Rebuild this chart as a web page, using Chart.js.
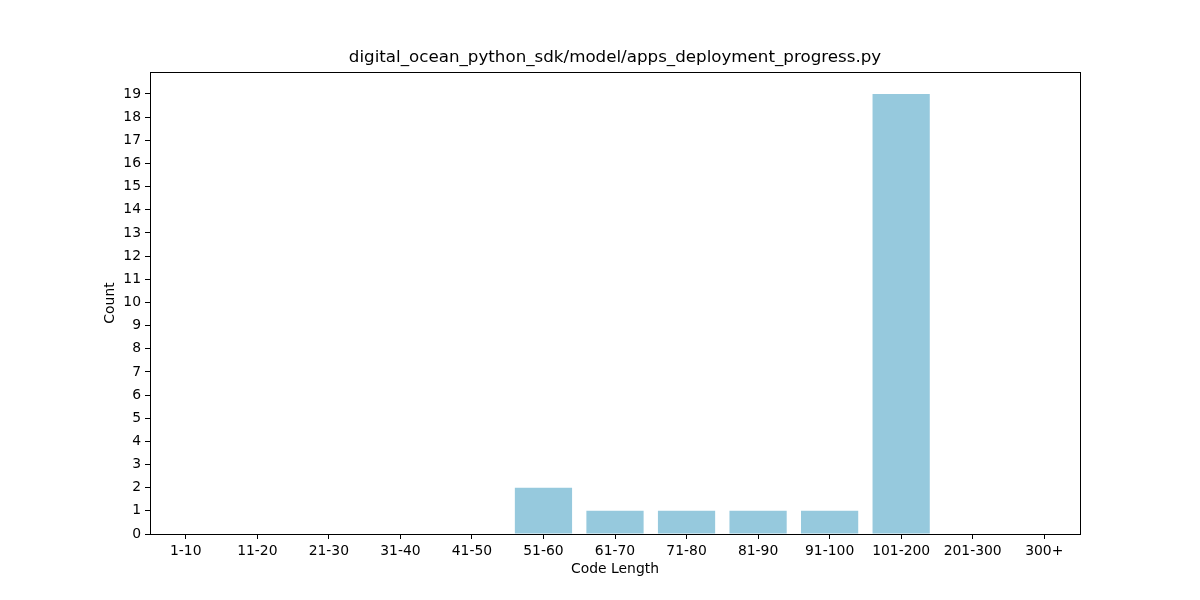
<!DOCTYPE html>
<html>
<head>
<meta charset="utf-8">
<script src="https://cdn.jsdelivr.net/npm/chart.js@4/dist/chart.umd.min.js"></script>
<style>
html,body{margin:0;padding:0;background:#fff;}
#wrap{width:1200px;height:600px;position:relative;}
</style>
</head>
<body>
<div id="wrap"><canvas id="c" width="1200" height="600"></canvas></div>
<script>
const categories = ['1-10','11-20','21-30','31-40','41-50','51-60','61-70','71-80','81-90','91-100','101-200','201-300','300+'];
const counts = [0,0,0,0,0,2,1,1,1,1,19,0,0];
const chartTitle = 'digital_ocean_python_sdk/model/apps_deployment_progress.py';
const xLabel = 'Code Length';
const yLabel = 'Count';

const FONT = 'DejaVu Sans';
const frame = {
  id: 'frame',
  afterDatasetsDraw(chart) {
    const {ctx, chartArea: a} = chart;
    ctx.save();
    ctx.strokeStyle = '#000';
    ctx.lineWidth = 1;
    ctx.strokeRect(Math.round(a.left) + 0.5, Math.round(a.top) + 0.5, Math.round(a.right - a.left), Math.round(a.bottom - a.top));
    ctx.fillStyle = '#000';
    ctx.font = '16.7px "' + FONT + '"';
    ctx.textAlign = 'center';
    ctx.textBaseline = 'middle';
    ctx.fillText(chartTitle, (a.left + a.right) / 2, 58);
    ctx.restore();
  }
};

new Chart(document.getElementById('c'), {
  type: 'bar',
  data: {
    labels: categories,
    datasets: [{
      data: counts,
      backgroundColor: 'rgb(150,201,221)',
      borderWidth: 0,
      barPercentage: 0.8,
      categoryPercentage: 1.0
    }]
  },
  options: {
    responsive: false,
    animation: false,
    devicePixelRatio: 1,
    layout: { padding: { left: 0, right: 120, top: 72, bottom: 0 } },
    plugins: {
      legend: { display: false },
      tooltip: { enabled: false },
      title: { display: false }
    },
    scales: {
      x: {
        offset: true,
        grid: { display: true, offset: false, drawOnChartArea: false, drawTicks: true, tickLength: 5, tickColor: '#000', color: '#000' },
        border: { display: true, color: '#000' },
        ticks: { color: '#000', font: { family: FONT, size: 13.9 }, padding: 4, maxRotation: 0, autoSkip: false },
        title: { display: true, text: xLabel, color: '#000', font: { family: FONT, size: 13.9, lineHeight: 1.2 }, padding: { top: 4, bottom: 22 } },
        afterFit(s) { s.height = 66; }
      },
      y: {
        min: 0,
        max: 19.95,
        grid: { display: true, drawOnChartArea: false, drawTicks: true, tickLength: 5, tickColor: '#000', color: '#000' },
        border: { display: true, color: '#000' },
        ticks: { stepSize: 1, color: '#000', font: { family: FONT, size: 13.9 }, padding: 4 },
        afterBuildTicks(s) { s.ticks = s.ticks.filter(t => Number.isInteger(t.value)); },
        title: { display: true, text: yLabel, color: '#000', font: { family: FONT, size: 13.9, lineHeight: 1.2 }, padding: { top: 101.7, bottom: 4 } },
        afterFit(s) { s.width = 150; }
      }
    }
  },
  plugins: [frame]
});
</script>
</body>
</html>
